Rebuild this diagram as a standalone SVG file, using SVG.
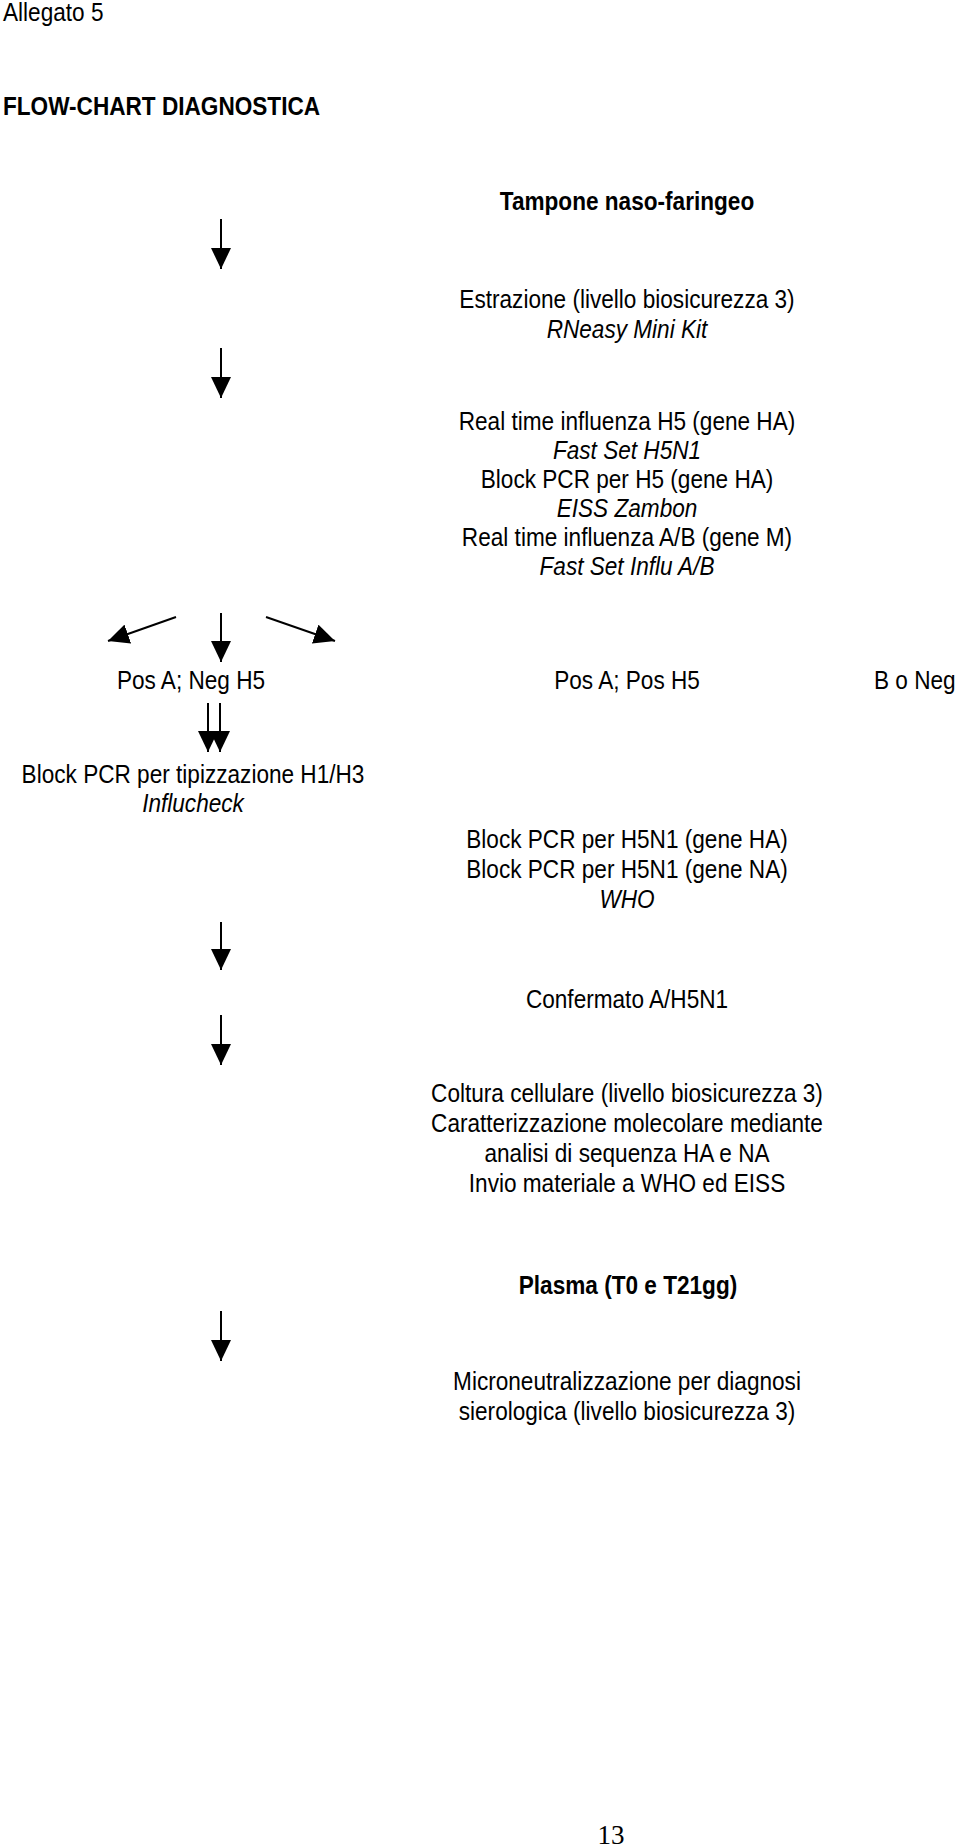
<svg xmlns="http://www.w3.org/2000/svg" width="960" height="1847" viewBox="0 0 960 1847">
<style>
  text { font-family: "Liberation Sans", Arial, Helvetica, sans-serif; font-size: 22.6px; fill: #000; }
  .c { text-anchor: middle; }
  .b { font-weight: bold; }
  .i { font-style: italic; }
  .pg { font-family: "Liberation Serif", "Times New Roman", serif; font-size: 27px; }
  .ln { stroke: #000; stroke-width: 2; fill: none; marker-end: url(#ah); }
</style>
<defs>
  <marker id="ah" viewBox="0 0 21 20" refX="21" refY="10" markerWidth="21" markerHeight="20" markerUnits="userSpaceOnUse" orient="auto">
    <path d="M0,0 L21,10 L0,20 Z" fill="#000"/>
  </marker>
</defs>
<rect width="960" height="1847" fill="#fff"/>

<g id="header">
  <text transform="translate(3,21) scale(1,1.1)">Allegato 5</text>
  <text transform="translate(3,115) scale(1,1.1)" class="b">FLOW-CHART DIAGNOSTICA</text>
</g>

<g id="n-tampone"><text transform="translate(627,210) scale(1,1.1)" class="c b">Tampone naso-faringeo</text></g>
<g id="n-estrazione">
  <text transform="translate(627,308) scale(1,1.1)" class="c">Estrazione (livello biosicurezza 3)</text>
  <text transform="translate(627,338) scale(1,1.1)" class="c i">RNeasy Mini Kit</text>
</g>
<g id="n-realtime">
  <text transform="translate(627,430) scale(1,1.1)" class="c">Real time influenza H5 (gene HA)</text>
  <text transform="translate(627,459) scale(1,1.1)" class="c i">Fast Set H5N1</text>
  <text transform="translate(627,488) scale(1,1.1)" class="c">Block PCR per H5 (gene HA)</text>
  <text transform="translate(627,517) scale(1,1.1)" class="c i">EISS Zambon</text>
  <text transform="translate(627,546) scale(1,1.1)" class="c">Real time influenza A/B (gene M)</text>
  <text transform="translate(627,575) scale(1,1.1)" class="c i">Fast Set Influ A/B</text>
</g>
<g id="n-posneg"><text transform="translate(191,689) scale(1,1.1)" class="c">Pos A; Neg H5</text></g>
<g id="n-pospos"><text transform="translate(627,689) scale(1,1.1)" class="c">Pos A; Pos H5</text></g>
<g id="n-bneg"><text transform="translate(874,689) scale(1,1.1)">B o Neg</text></g>
<g id="n-tipizzazione">
  <text transform="translate(193,783) scale(1,1.1)" class="c">Block PCR per tipizzazione H1/H3</text>
  <text transform="translate(193,812) scale(1,1.1)" class="c i">Influcheck</text>
</g>
<g id="n-h5n1">
  <text transform="translate(627,848) scale(1,1.1)" class="c">Block PCR per H5N1 (gene HA)</text>
  <text transform="translate(627,878) scale(1,1.1)" class="c">Block PCR per H5N1 (gene NA)</text>
  <text transform="translate(627,908) scale(1,1.1)" class="c i">WHO</text>
</g>
<g id="n-confermato"><text transform="translate(627,1008) scale(1,1.1)" class="c">Confermato A/H5N1</text></g>
<g id="n-coltura">
  <text transform="translate(627,1102) scale(1,1.1)" class="c">Coltura cellulare (livello biosicurezza 3)</text>
  <text transform="translate(627,1132) scale(1,1.1)" class="c">Caratterizzazione molecolare mediante</text>
  <text transform="translate(627,1162) scale(1,1.1)" class="c">analisi di sequenza HA e NA</text>
  <text transform="translate(627,1192) scale(1,1.1)" class="c">Invio materiale a WHO ed EISS</text>
</g>
<g id="n-plasma"><text transform="translate(628,1294) scale(1,1.1)" class="c b">Plasma (T0 e T21gg)</text></g>
<g id="n-micro">
  <text transform="translate(627,1390) scale(1,1.1)" class="c">Microneutralizzazione per diagnosi</text>
  <text transform="translate(627,1420) scale(1,1.1)" class="c">sierologica (livello biosicurezza 3)</text>
</g>
<g id="page"><text x="611" y="1844" class="c pg">13</text></g>

<g id="connectors">
  <line class="ln" x1="221" y1="219" x2="221" y2="269"/>
  <line class="ln" x1="221" y1="348" x2="221" y2="398"/>
  <line class="ln" x1="176" y1="617" x2="108" y2="641"/>
  <line class="ln" x1="221" y1="613" x2="221" y2="662"/>
  <line class="ln" x1="266" y1="617" x2="335" y2="641"/>
  <line class="ln" x1="208" y1="703" x2="208" y2="752"/>
  <line class="ln" x1="220" y1="703" x2="220" y2="752"/>
  <line class="ln" x1="221" y1="922" x2="221" y2="970"/>
  <line class="ln" x1="221" y1="1015" x2="221" y2="1065"/>
  <line class="ln" x1="221" y1="1311" x2="221" y2="1361"/>
</g>
</svg>
